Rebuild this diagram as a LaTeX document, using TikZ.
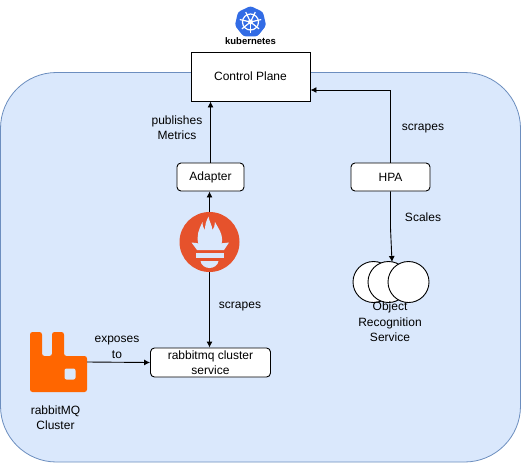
\documentclass[tikz,border=0pt]{standalone}
\usepackage{fontspec}
\setmainfont{Liberation Sans}
\usetikzlibrary{arrows.meta,shapes.geometric}
\definecolor{panelfill}{HTML}{DAE8FC}
\definecolor{panelline}{HTML}{6C8EBF}
\definecolor{kubeblue}{HTML}{326CE5}
\definecolor{promorange}{HTML}{E6522C}
\definecolor{rabbitorange}{HTML}{FF6600}
\tikzset{
  box/.style={draw=black,fill=white,line width=0.9pt,inner sep=0pt,font=\fontsize{12}{15.5}\selectfont,align=center},
  roundbox/.style={box,rounded corners=4pt},
  pod/.style={circle,draw=black,fill=white,line width=0.9pt,minimum size=41pt,inner sep=0pt},
  conn/.style={draw=black,line width=0.9pt,-{Latex[length=6pt,width=6pt]}},
  lbl/.style={font=\fontsize{12}{15.5}\selectfont,align=center,inner sep=0pt},
  spoke/.style={draw=white,line width=1.2pt}
}
\newcommand{\lowered}[1]{\raisebox{-2pt}{#1}}
\begin{document}
\begin{tikzpicture}[x=1pt,y=-1pt]
\useasboundingbox (0,0) rectangle (521,463);
\fill[white] (0,0) rectangle (521,463);
\draw[fill=panelfill,draw=panelline,line width=0.8pt,rounded corners=56pt] (0.5,72.5) rectangle (520.5,462);
% kubernetes logo
\node[regular polygon,regular polygon sides=7,fill=kubeblue,rounded corners=2.5pt,minimum size=32pt,inner sep=0pt] (kube) at (250.5,22) {};
\draw[spoke] (kube.center) circle (8pt);
\foreach \a in {90,141.4,192.9,244.3,295.7,347.1,38.6}
  \draw[spoke] (kube.center) -- +(\a:-11pt);
\fill[white] (kube.center) circle (2.5pt);
\node[lbl,font=\fontsize{9.5}{11}\selectfont\bfseries] (kubetext) at (250.5,41.5) {kubernetes};
% boxes
\node[box,minimum width=119pt,minimum height=49pt] (cp) at (250.5,76.5) {\lowered{Control Plane}};
\node[roundbox,minimum width=67pt,minimum height=28pt] (adapter) at (210.5,177) {\lowered{Adapter}};
\node[roundbox,minimum width=79pt,minimum height=28pt] (hpa) at (390.5,177) {\lowered{HPA}};
\node[roundbox,minimum width=120pt,minimum height=29pt] (svc) at (210.5,362.5) {rabbitmq cluster\\service};
% prometheus
\node[circle,fill=promorange,minimum size=60pt,inner sep=0pt] (prom) at (209.5,242) {};
\fill[panelfill] (198.5,244) .. controls (196,236) and (199,229) .. (202.5,222)
  .. controls (202.5,226) and (203.5,228) .. (205,230)
  .. controls (205,225) and (206,221) .. (208.5,216.5)
  .. controls (209,221) and (212,225) .. (212.5,230)
  .. controls (214,228) and (215,225) .. (215,222)
  .. controls (218,228) and (224,235) .. (221.5,244) -- cycle;
\fill[panelfill] (191.5,242.5) .. controls (195,243) and (197,243) .. (199,243.5) -- (220,243.5) .. controls (223,243) and (226,243) .. (229,242.5)
  -- (224,250) -- (197,250) -- cycle;
\fill[panelfill] (196,252.8) rectangle (223.5,257.8);
\fill[panelfill] (200.5,261) -- (218.5,261) .. controls (218,265) and (214,268) .. (209.5,268) .. controls (205,268) and (201,265) .. (200.5,261) -- cycle;
% rabbit
\fill[rabbitorange,rounded corners=2.5pt] (30,332) -- (42,332) -- (42,356) -- (52,356) -- (52,332) -- (64,332) -- (64,356) -- (87,356) -- (87,392) -- (30,392) -- cycle;
\node[fill=panelfill,rounded corners=2pt,minimum width=11pt,minimum height=11pt,inner sep=0pt] (hole) at (70,374) {};
\node[minimum width=57pt,minimum height=36pt,inner sep=0pt] (rabbit) at (58.5,362) {};
\node[lbl] (rabbittext) at (55.5,417.5) {rabbitMQ\\Cluster};
% pods
\node[pod] (p1) at (373.5,282) {};
\node[pod] (p2) at (388.5,282) {};
\node[pod] (p3) at (408.5,282) {};
\node[lbl] (podtext) at (390,322) {Object\\Recognition\\Service};
% connectors
\coordinate (hpaup) at (390.5,90);
\coordinate (hpadown) at (390.5,228);
\draw[conn] (adapter.north) -- (adapter.north |- cp.south);
\draw[conn] (prom.north) -- (prom.north |- adapter.south);
\draw[conn] (prom.south) -- (prom.south |- svc.north);
\draw[conn] (rabbit.east) -- (svc.west);
\draw[conn] (hpa.north) -- (hpaup) -- (hpaup -| cp.east);
\draw[conn] (hpa.south) -- (hpadown) -- (392,262);
% labels
\node[lbl] (pub) at (177,127.5) {publishes\\Metrics};
\node[lbl] (scr1) at (423,129) {scrapes};
\node[lbl] (scl) at (423,217.5) {Scales};
\node[lbl] (scr2) at (240,307) {scrapes};
\node[lbl] (exp) at (117,347.5) {exposes\\to};
\end{tikzpicture}
\end{document}
